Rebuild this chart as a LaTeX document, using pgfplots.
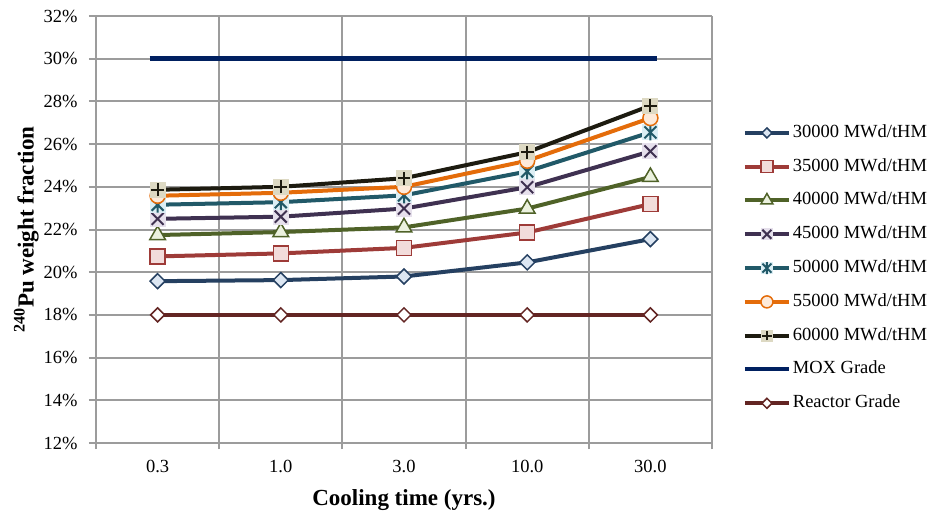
\documentclass[border=0pt]{standalone}
\usepackage{pgfplots}
\pgfplotsset{compat=1.18}
\usepackage{fontspec}
\setmainfont{Liberation Serif}

\definecolor{l30}{HTML}{254061}\definecolor{f30}{HTML}{DCE6F2}
\definecolor{l35}{HTML}{9E3B38}\definecolor{f35}{HTML}{F2DCDB}
\definecolor{l40}{HTML}{4F6228}\definecolor{f40}{HTML}{EBF1DE}
\definecolor{l45}{HTML}{3F3151}\definecolor{f45}{HTML}{E6E0EC}
\definecolor{l50}{HTML}{215968}\definecolor{f50}{HTML}{DBEEF4}
\definecolor{l55}{HTML}{E46C0A}\definecolor{f55}{HTML}{FDEADA}
\definecolor{l60}{HTML}{1D1B10}\definecolor{f60}{HTML}{DDD9C3}
\definecolor{lmox}{HTML}{002060}
\definecolor{lrg}{HTML}{632523}
\definecolor{gridc}{HTML}{9C9C9C}

\pgfdeclareplotmark{xdiamond}{%
  \pgfpathmoveto{\pgfqpoint{0pt}{\pgfplotmarksize}}%
  \pgfpathlineto{\pgfqpoint{\pgfplotmarksize}{0pt}}%
  \pgfpathlineto{\pgfqpoint{0pt}{-\pgfplotmarksize}}%
  \pgfpathlineto{\pgfqpoint{-\pgfplotmarksize}{0pt}}%
  \pgfpathclose\pgfusepathqfillstroke}
\pgfdeclareplotmark{sqx}{%
  \pgfpathrectangle{\pgfqpoint{-\pgfplotmarksize}{-\pgfplotmarksize}}{\pgfqpoint{2\pgfplotmarksize}{2\pgfplotmarksize}}%
  \pgfusepathqfill
  \pgfpathmoveto{\pgfqpoint{-.75\pgfplotmarksize}{-.75\pgfplotmarksize}}%
  \pgfpathlineto{\pgfqpoint{.75\pgfplotmarksize}{.75\pgfplotmarksize}}%
  \pgfpathmoveto{\pgfqpoint{-.75\pgfplotmarksize}{.75\pgfplotmarksize}}%
  \pgfpathlineto{\pgfqpoint{.75\pgfplotmarksize}{-.75\pgfplotmarksize}}%
  \pgfusepathqstroke}
\pgfdeclareplotmark{sqast}{%
  \pgfpathrectangle{\pgfqpoint{-\pgfplotmarksize}{-\pgfplotmarksize}}{\pgfqpoint{2\pgfplotmarksize}{2\pgfplotmarksize}}%
  \pgfusepathqfill
  \pgfpathmoveto{\pgfqpoint{-.75\pgfplotmarksize}{-.75\pgfplotmarksize}}%
  \pgfpathlineto{\pgfqpoint{.75\pgfplotmarksize}{.75\pgfplotmarksize}}%
  \pgfpathmoveto{\pgfqpoint{-.75\pgfplotmarksize}{.75\pgfplotmarksize}}%
  \pgfpathlineto{\pgfqpoint{.75\pgfplotmarksize}{-.75\pgfplotmarksize}}%
  \pgfpathmoveto{\pgfqpoint{0pt}{-\pgfplotmarksize}}%
  \pgfpathlineto{\pgfqpoint{0pt}{\pgfplotmarksize}}%
  \pgfusepathqstroke}
\pgfdeclareplotmark{sqplus}{%
  \pgfpathrectangle{\pgfqpoint{-\pgfplotmarksize}{-\pgfplotmarksize}}{\pgfqpoint{2\pgfplotmarksize}{2\pgfplotmarksize}}%
  \pgfusepathqfill
  \pgfpathmoveto{\pgfqpoint{-.8\pgfplotmarksize}{0pt}}%
  \pgfpathlineto{\pgfqpoint{.8\pgfplotmarksize}{0pt}}%
  \pgfpathmoveto{\pgfqpoint{0pt}{-.8\pgfplotmarksize}}%
  \pgfpathlineto{\pgfqpoint{0pt}{.8\pgfplotmarksize}}%
  \pgfusepathqstroke}

\pgfplotsset{legimg/.style={legend image code/.code={\draw[mark repeat=2,mark phase=2,mark size=#1] plot coordinates {(0pt,0pt)(22pt,0pt)(44pt,0pt)};}}}

\begin{document}
\begin{tikzpicture}
\begin{axis}[
  name=ax,
  scale only axis,
  width=616pt, height=427pt,
  xmin=-0.5, xmax=4.5,
  ymin=12, ymax=32,
  xtick={0,1,2,3,4},
  xticklabels={0.3,1.0,3.0,10.0,30.0},
  major x tick style={draw=none},
  minor xtick={-0.5,0.5,1.5,2.5,3.5,4.5},
  xminorgrids=true,
  ytick={12,14,...,32},
  yticklabel={\pgfmathprintnumber{\tick}\%},
  ymajorgrids=true,
  grid style={draw=gridc, line width=2pt},
  minor grid style={draw=gridc, line width=2pt},
  axis line style={draw=gridc, line width=2pt},
  axis x line*=bottom,
  axis y line*=left,
  tick align=outside,
  tick style={draw=gridc, line width=2pt},
  major tick length=7pt,
  minor tick length=6pt,
  ticklabel style={font=\fontsize{18.5}{22}\selectfont},
  xticklabel style={yshift=-7pt},
  yticklabel style={xshift=-8pt},
  /pgf/number format/assume math mode=true,
  xlabel={\textbf{Cooling time (yrs.)}},
  ylabel={\textbf{\textsuperscript{240}Pu weight fraction}},
  label style={font=\fontsize{23}{27}\selectfont},
  xlabel style={yshift=-10pt},
  ylabel style={yshift=-2pt},
  legend style={at={(rel axis cs:1.045,0.756)}, anchor=north west, draw=none, fill=none,
    font=\fontsize{18.5}{22}\selectfont, row sep=12.8pt,
    nodes={inner sep=2pt, text height=13pt, text depth=4pt}},
  legend cell align=left,
  every axis plot/.append style={line width=4pt},
  clip=false,
]
\addplot[color=l30, mark=xdiamond, mark size=7.5pt, mark options={solid, line width=1.5pt, fill=f30, draw=l30}, legimg=5pt]
  coordinates {(0,19.58) (1,19.63) (2,19.80) (3,20.46) (4,21.55)};
\addlegendentry{30000 MWd/tHM}
\addplot[color=l35, mark=square*, mark size=7.5pt, mark options={solid, line width=1.5pt, fill=f35, draw=l35}, legimg=6pt]
  coordinates {(0,20.74) (1,20.88) (2,21.14) (3,21.86) (4,23.19)};
\addlegendentry{35000 MWd/tHM}
\addplot[color=l40, mark=triangle*, mark size=9pt, mark options={solid, line width=1.5pt, fill=f40, draw=l40}, legimg=7pt]
  coordinates {(0,21.74) (1,21.88) (2,22.10) (3,22.98) (4,24.46)};
\addlegendentry{40000 MWd/tHM}
\addplot[color=l45, mark=sqx, mark size=8pt, mark options={solid, line width=2pt, fill=f45, draw=l45}, legimg=6pt]
  coordinates {(0,22.50) (1,22.60) (2,22.98) (3,23.98) (4,25.66)};
\addlegendentry{45000 MWd/tHM}
\addplot[color=l50, mark=sqast, mark size=8pt, mark options={solid, line width=2pt, fill=f50, draw=l50}, legimg=6pt]
  coordinates {(0,23.16) (1,23.28) (2,23.60) (3,24.72) (4,26.55)};
\addlegendentry{50000 MWd/tHM}
\addplot[color=l55, mark=*, mark size=7.5pt, mark options={solid, line width=1.5pt, fill=f55, draw=l55}, legimg=6pt]
  coordinates {(0,23.58) (1,23.72) (2,24.00) (3,25.22) (4,27.22)};
\addlegendentry{55000 MWd/tHM}
\addplot[color=l60, mark=sqplus, mark size=8pt, mark options={solid, line width=2pt, fill=f60, draw=l60}, legimg=6pt]
  coordinates {(0,23.86) (1,24.00) (2,24.40) (3,25.62) (4,27.80)};
\addlegendentry{60000 MWd/tHM}
\addplot[color=lmox, no marks, line width=4.5pt, shorten <=-8pt, shorten >=-7pt,
  legend image code/.code={\draw[shorten <=0pt, shorten >=0pt, line width=4pt] (0pt,0pt) -- (44pt,0pt);}]
  coordinates {(0,30) (1,30) (2,30) (3,30) (4,30)};
\addlegendentry{MOX Grade}
\addplot[color=lrg, mark=xdiamond, mark size=7pt, mark options={solid, line width=1.5pt, fill=white, draw=lrg}, legimg=5pt]
  coordinates {(0,18) (1,18) (2,18) (3,18) (4,18)};
\addlegendentry{Reactor Grade}
\end{axis}
\pgfresetboundingbox
\path (ax.south west) ++(-96pt,-74pt) rectangle ++(933pt,517pt);
\end{tikzpicture}
\end{document}
